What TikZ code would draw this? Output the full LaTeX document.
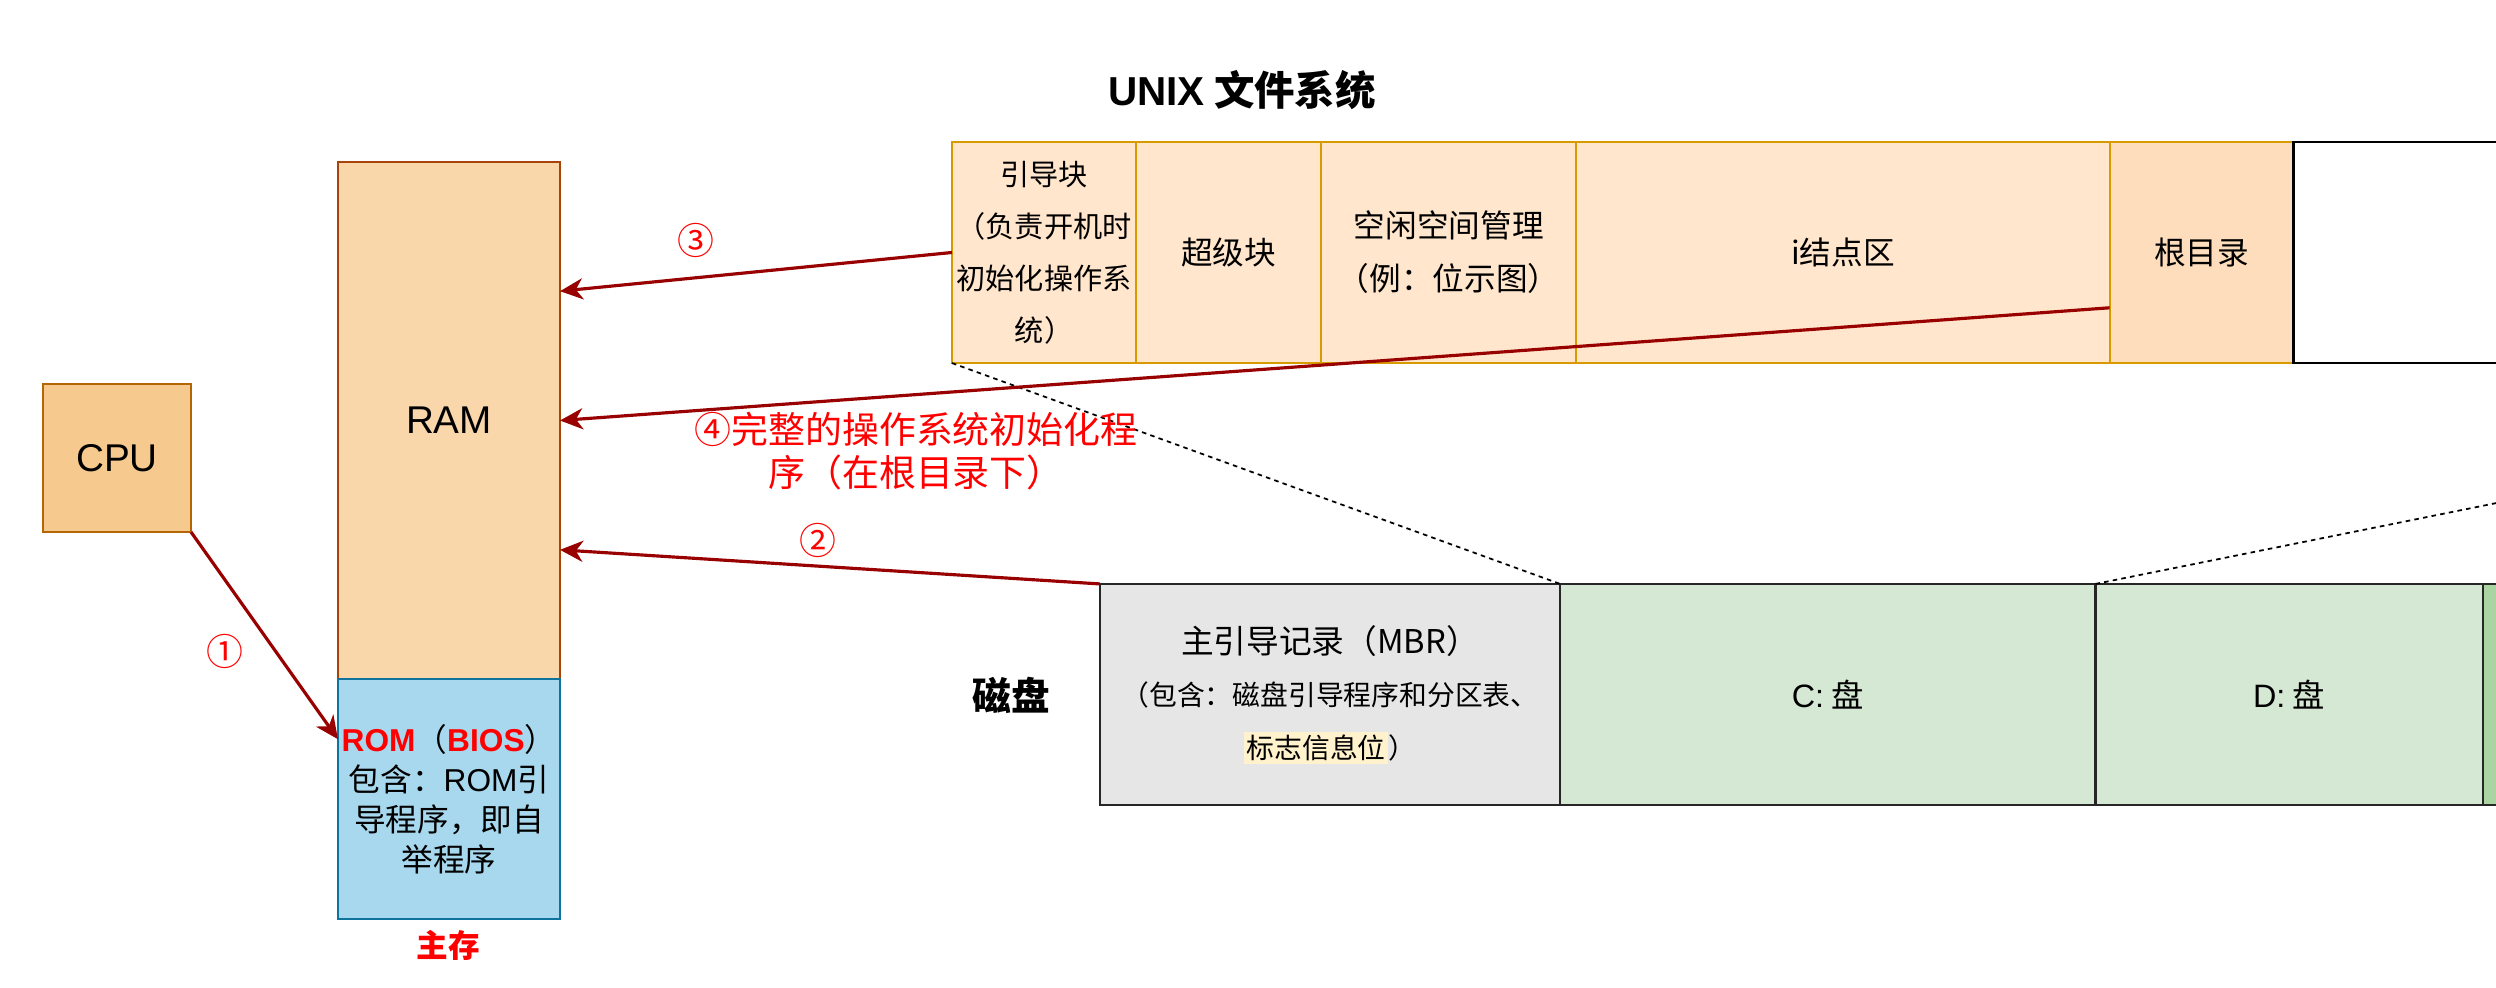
\documentclass[tikz,border=0pt]{standalone}
\usepackage{fontspec}
\setmainfont{Noto Sans CJK SC}
\newfontfamily\lat{Liberation Sans}
\usetikzlibrary{arrows.meta,calc}
\definecolor{cpufill}{HTML}{F6C98F}
\definecolor{cpuline}{HTML}{B46504}
\definecolor{ramfill}{HTML}{FAD6AB}
\definecolor{ramline}{HTML}{A8430A}
\definecolor{romfill}{HTML}{A8D8EE}
\definecolor{romline}{HTML}{10739E}
\definecolor{fsfill}{HTML}{FFE6CC}
\definecolor{fsline}{HTML}{D79B00}
\definecolor{rootfill}{HTML}{FDDDBB}
\definecolor{mbrfill}{HTML}{E6E6E6}
\definecolor{cfill}{HTML}{D5E8D4}
\definecolor{efill}{HTML}{AAD4A2}
\definecolor{flowred}{HTML}{990000}
\definecolor{hl}{HTML}{FFF2CC}
\setlength{\fboxsep}{0.8pt}

\begin{document}
\begin{tikzpicture}[x=0.01cm, y=-0.01cm,
		box/.style = {shape=rectangle, inner sep=0pt, outer sep=0pt, align=center},
		fsbox/.style = {box, draw=fsline, fill=fsfill, line width=0.5pt, minimum height=2.21cm, font=\fontsize{9}{15}\selectfont},
		diskbox/.style = {box, draw=black!85, line width=0.6pt, minimum height=2.21cm, font=\fontsize{9.2}{15}\selectfont},
		flow/.style = {draw=flowred, line width=0.9pt, -{Stealth[length=6.5pt,width=6pt,inset=2pt]}},
		zoomline/.style = {black, line width=0.5pt, dash pattern=on 1.3pt off 1.2pt},
		numlabel/.style = {text=red, inner sep=1pt, font=\fontsize{10.5}{12.2}\selectfont}]
		\clip (0,0) rectangle (2496,988);
		\fill[white] (0,0) rectangle (2496,988);
		\node[box, draw=cpuline, fill=cpufill, line width=0.6pt, minimum width=1.48cm, minimum height=1.48cm, font=\lat\fontsize{11}{13}\selectfont] (cpu) at (117,458) {CPU};
		\node[box, draw=ramline, fill=ramfill, line width=0.6pt, minimum width=2.22cm, minimum height=5.17cm, font=\lat\fontsize{11}{13}\selectfont] (ram) at (449,420.5) {RAM};
		\node[box, draw=romline, fill=romfill, line width=0.6pt, minimum width=2.22cm, minimum height=2.40cm, font=\fontsize{9}{11.4}\selectfont, anchor=north] (rom) at (ram.south) {\textcolor{red}{\lat\bfseries ROM}（\textcolor{red}{\lat\bfseries BIOS}）\\包含：{\lat ROM}引\\导程序，即自\\举程序};
		\node[text=red, font=\bfseries\fontsize{9}{11}\selectfont] (mainmem) at (448,945) {主存};
		\node[font=\bfseries\fontsize{11.5}{14}\selectfont] (fstitle) at (1242,90) {{\lat\bfseries UNIX} 文件系统};
		\node[fsbox, minimum width=1.84cm, font=\fontsize{8.3}{14.8}\selectfont] (boot) at (1044,252.5) {引导块\\（负责开机时\\初始化操作系\\统）};
		\node[fsbox, minimum width=1.85cm, anchor=west] (super) at (boot.east) {超级块};
		\node[fsbox, minimum width=2.55cm, anchor=west] (free) at (super.east) {空闲空间管理\\（例：位示图）};
		\node[fsbox, minimum width=5.33cm, anchor=west] (inode) at (free.east) {i结点区};
		\node[fsbox, fill=rootfill, minimum width=1.84cm, anchor=west] (root) at (inode.east) {根目录};
		\node[box, draw=black, fill=white, line width=0.8pt, minimum width=8.96cm, minimum height=2.21cm, anchor=west] (rest) at (root.east) {};
		\node[font=\bfseries\fontsize{11}{13}\selectfont] (disk) at (1011,695) {磁盘};
		\node[diskbox, fill=mbrfill, minimum width=4.60cm, font=\fontsize{7.9}{15}\selectfont] (mbr) at (1330,694.5) {{\fontsize{9.3}{15}\selectfont 主引导记录（MBR）}\\（包含：磁盘引导程序和分区表、\\\colorbox{hl}{标志信息位}）};
		\node[diskbox, fill=cfill, minimum width=5.35cm, anchor=west] (cdrive) at (mbr.east) {{\lat C:} 盘};
		\node[diskbox, fill=cfill, minimum width=3.87cm, anchor=west] (ddrive) at (cdrive.east) {{\lat D:} 盘};
		\node[diskbox, fill=efill, minimum width=3cm, anchor=west] (edrive) at (ddrive.east) {};
		\draw[zoomline] (boot.south west) -- (cdrive.north west);
		\draw[zoomline] (ddrive.north west) -- (rest.south east);
		\draw[flow] (cpu.south east) -- ($(rom.north west)!0.5!(rom.west)$);
		\draw[flow] (mbr.north west) -- ($(ram.east)!0.5!(ram.south east)$);
		\draw[flow] (boot.west) -- ($(ram.north east)!0.5!(ram.east)$);
		\draw[flow] ($(root.west)!0.5!(root.south west)$) -- (ram.east);
		\node[numlabel] (n1) at (225,651) {①};
		\node[numlabel] (n2) at (818,540) {②};
		\node[numlabel] (n3) at (696,240) {③};
		\node[numlabel, align=center] (n4) at (916,451) {④完整的操作系统初始化程\\序（在根目录下）};
	\end{tikzpicture}
\end{document}
